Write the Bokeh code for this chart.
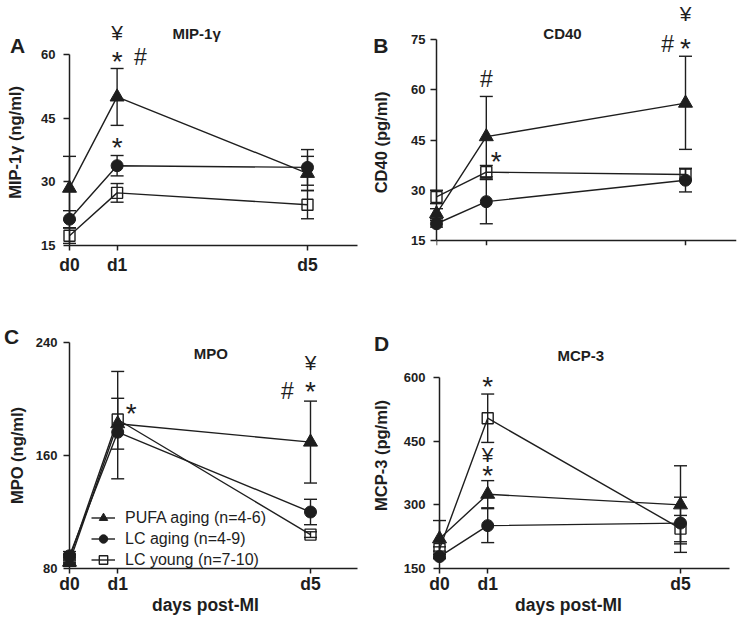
from bokeh.plotting import figure
from bokeh.models import Range1d, FixedTicker, Legend, LegendItem
from bokeh.layouts import column, row
from bokeh.core.properties import value
from bokeh.embed import file_html
from bokeh.resources import INLINE

FONT = "Liberation Sans"
INK = "#1e1e1e"

days = [0, 1, 5]
day_labels = {0: "d0", 1: "d1", 5: "d5"}
group_names = ["PUFA aging (n=4-6)", "LC aging (n=4-9)", "LC young (n=7-10)"]
x_title = "days post-MI"

# ---- Panel A: MIP-1γ (ng/ml)
a_pufa = [28.5, 50.0, 32.0]
a_pufa_up = [7.5, 6.7, 4.0]
a_pufa_dn = [7.5, 6.7, 4.0]
a_lca = [21.2, 33.8, 33.4]
a_lca_up = [2.0, 2.4, 4.2]
a_lca_dn = [2.0, 2.4, 4.2]
a_lcy = [17.3, 27.4, 24.6]
a_lcy_up = [1.8, 2.2, 3.3]
a_lcy_dn = [1.8, 2.2, 3.3]
a_yticks = [15, 30, 45, 60]
a_marks = [("¥", 1, 65.2), ("*", 1, 59.8), ("#", 1.49, 59.3), ("*", 1, 39.7)]

# ---- Panel B: CD40 (pg/ml)
b_pufa = [23.0, 46.0, 56.0]
b_pufa_up = [1.5, 12.0, 14.0]
b_pufa_dn = [1.5, 12.0, 13.8]
b_lca = [20.0, 26.6, 33.0]
b_lca_up = [1.0, 6.6, 3.5]
b_lca_dn = [1.0, 6.6, 3.5]
b_lcy = [28.0, 35.4, 34.7]
b_lcy_up = [2.0, 2.0, 1.8]
b_lcy_dn = [2.0, 2.0, 1.8]
b_yticks = [15, 30, 45, 60, 75]
b_marks = [("#", 1, 63.1), ("*", 1.2, 40.4), ("#", 4.64, 73.8), ("*", 5, 74.1), ("¥", 5, 82.8)]

# ---- Panel C: MPO (ng/ml)
c_pufa = [84.5, 182.5, 169.5]
c_pufa_up = [3, 18, 29]
c_pufa_dn = [3, 18, 29]
c_lca = [89.0, 176.5, 120.0]
c_lca_up = [3, 0, 9]
c_lca_dn = [3, 33, 9]
c_lcy = [87.0, 185.5, 104.0]
c_lcy_up = [3, 34, 2]
c_lcy_dn = [3, 0, 2]
c_yticks = [80, 160, 240]
c_marks = [("*", 1.28, 194), ("#", 4.52, 206), ("*", 5, 209.6), ("¥", 5, 225.8)]

# ---- Panel D: MCP-3 (pg/ml)
d_pufa = [220, 325, 300]
d_pufa_up = [43, 32, 92]
d_pufa_dn = [43, 32, 92]
d_lca = [178, 251, 257]
d_lca_up = [5, 40, 61]
d_lca_dn = [5, 40, 69]
d_lcy = [196, 504, 244]
d_lcy_up = [5, 57, 31]
d_lcy_dn = [5, 57, 31]
d_yticks = [150, 300, 450, 600]
d_marks = [("*", 1, 593), ("¥", 1, 418.6), ("*", 1, 385)]

SYM_SIZE = {"*": 28, "#": 23, "¥": 21}
SYM_DROP = {"*": 0.23, "#": 0.0, "¥": 0.0}

MARKERS = [("triangle", INK, 14), ("circle", INK, 12), ("square", None, 11)]

# common grid (columns share left/right borders, rows share top/bottom borders)
COLS = [dict(width=368, left=69, right=11), dict(width=369, left=68, right=1)]
ROWS = [dict(height=298, top=39, bottom=53), dict(height=322, top=44, bottom=52)]


def style_axis(ax):
    ax.axis_line_color = INK
    ax.axis_line_width = 1.5
    ax.major_tick_line_color = INK
    ax.major_tick_line_width = 1.5
    ax.major_tick_in = 0
    ax.minor_tick_line_color = None
    ax.major_label_text_font = FONT
    ax.major_label_text_font_style = "bold"
    ax.major_label_text_color = INK
    ax.axis_label_text_font = FONT
    ax.axis_label_text_font_style = "bold"
    ax.axis_label_text_color = INK


def make_panel(col, rw, ppd, yr, ybounds, yticks, ylabel, series, marks, title, title_xy,
               letter, letter_xy, ylab_standoff, ytick_standoff, xtick_standoff,
               xaxis_at=None, xaxis_end=None, xlabel_xy=None, legend=False):
    c, r = COLS[col], ROWS[rw]
    fw = c["width"] - c["left"] - c["right"]
    fh = r["height"] - r["top"] - r["bottom"]
    x_end = fw / ppd
    p = figure(width=c["width"], height=r["height"], frame_width=fw, frame_height=fh,
               output_backend="svg", toolbar_location=None,
               x_range=Range1d(0, x_end), y_range=Range1d(*yr),
               min_border_left=c["left"], min_border_right=c["right"],
               min_border_top=r["top"], min_border_bottom=r["bottom"],
               background_fill_color="white", border_fill_color="white")
    p.outline_line_color = None
    p.grid.grid_line_color = None

    xax = p.below[0]
    yax = p.left[0]
    style_axis(xax)
    style_axis(yax)
    xax.ticker = FixedTicker(ticks=days)
    xax.major_label_overrides = day_labels
    xax.bounds = (0, xaxis_end if xaxis_end is not None else x_end)
    if xaxis_at is not None:
        xax.fixed_location = xaxis_at
    xax.major_tick_out = 5
    xax.major_label_text_font_size = "17.5px"
    xax.major_label_standoff = xtick_standoff

    yax.ticker = FixedTicker(ticks=yticks)
    yax.bounds = ybounds
    yax.major_tick_out = 6
    yax.major_label_text_font_size = "13px"
    yax.major_label_standoff = ytick_standoff
    yax.axis_label = ylabel
    yax.axis_label_text_font_size = "16.5px"
    yax.axis_label_standoff = ylab_standoff

    items = []
    for (vals, up, dn), (mk, fill, size), name in zip(series, MARKERS, group_names):
        lr = p.line(days, vals, line_color=INK, line_width=1.4, level="overlay")
        ex, elo, ehi, cx, cy = [], [], [], [], []
        for d, v, u, w in zip(days, vals, up, dn):
            if u or w:
                ex.append(d)
                elo.append(v - w)
                ehi.append(v + u)
            if u:
                cx.append(d)
                cy.append(v + u)
            if w:
                cx.append(d)
                cy.append(v - w)
        p.segment(x0=ex, y0=elo, x1=ex, y1=ehi, line_color=INK, line_width=1.4, level="overlay")
        p.scatter(cx, cy, marker="dash", size=13, line_color=INK, line_width=1.4, level="overlay")
        items.append((name, lr))
    mrs = []
    for (vals, up, dn), (mk, fill, size) in zip(series, MARKERS):
        if fill is None:
            mr = p.scatter(days, vals, marker=mk, size=size, line_color=INK, line_width=1.4,
                           fill_color="white", fill_alpha=0.0, level="overlay")
        else:
            mr = p.scatter(days, vals, marker=mk, size=size, line_color=INK, fill_color=fill,
                           level="overlay")
        mrs.append(mr)

    for sym, x, y in marks:
        fs = SYM_SIZE[sym]
        p.text(x=[x], y=[y], text=[sym], text_font=value(FONT), text_font_size=value(f"{fs}px"),
               text_color=INK, text_align="center", text_baseline="middle",
               y_offset=SYM_DROP[sym] * fs, level="overlay")
    p.text(x=[title_xy[0]], y=[title_xy[1]], text=[title], text_font=value(FONT),
           text_font_style="bold", text_font_size=value("15px"), text_color=INK,
           text_align="center", text_baseline="middle", level="overlay")
    p.text(x=[letter_xy[0]], y=[letter_xy[1]], text=[letter], text_font=value(FONT),
           text_font_style="bold", text_font_size=value("21px"), text_color=INK,
           text_align="center", text_baseline="middle", level="overlay")
    if xlabel_xy is not None:
        p.text(x=[xlabel_xy[0]], y=[xlabel_xy[1]], text=[x_title], text_font=value(FONT),
               text_font_style="bold", text_font_size=value("17.5px"), text_color=INK,
               text_align="center", text_baseline="middle", level="overlay")

    if legend:
        leg_items = [LegendItem(label=n, renderers=[lr, mr]) for (n, lr), mr in zip(items, mrs)]
        lg = Legend(items=leg_items, location=(22, -2), orientation="vertical",
                    glyph_width=24, glyph_height=21, spacing=0, padding=0, margin=0,
                    label_standoff=10, label_text_font=FONT, label_text_font_size="16px",
                    label_text_color=INK, background_fill_alpha=0.0, border_line_color=None,
                    label_height=21)
        p.add_layout(lg, "center")
    return p


pA = make_panel(0, 0, 47.6, (15, 63.53), (15, 60), a_yticks, "MIP-1γ (ng/ml)",
                [(a_pufa, a_pufa_up, a_pufa_dn), (a_lca, a_lca_up, a_lca_dn), (a_lcy, a_lcy_up, a_lcy_dn)],
                a_marks, "MIP-1γ", (2.67, 64.9), "A", (-1.09, 62.0),
                ylab_standoff=14, ytick_standoff=8, xtick_standoff=4)
pB = make_panel(1, 0, 49.8, (13.51, 75), (15, 75), b_yticks, "CD40 (pg/ml)",
                [(b_pufa, b_pufa_up, b_pufa_dn), (b_lca, b_lca_up, b_lca_dn), (b_lcy, b_lcy_up, b_lcy_dn)],
                b_marks, "CD40", (2.53, 76.8), "B", (-1.12, 73.2),
                ylab_standoff=18, ytick_standoff=5, xtick_standoff=4, xaxis_at=15)
pC = make_panel(0, 1, 48.2, (80, 240), (80, 240), c_yticks, "MPO (ng/ml)",
                [(c_pufa, c_pufa_up, c_pufa_dn), (c_lca, c_lca_up, c_lca_dn), (c_lcy, c_lcy_up, c_lcy_dn)],
                c_marks, "MPO", (2.93, 232.2), "C", (-1.2, 244.2),
                ylab_standoff=7, ytick_standoff=6, xtick_standoff=0,
                xlabel_xy=(2.82, 54.2), legend=True)
pD = make_panel(1, 1, 48.2, (150, 682.4), (150, 600), d_yticks, "MCP-3 (pg/ml)",
                [(d_pufa, d_pufa_up, d_pufa_dn), (d_lca, d_lca_up, d_lca_dn), (d_lcy, d_lcy_up, d_lcy_dn)],
                d_marks, "MCP-3", (2.93, 651.8), "D", (-1.2, 680.0),
                ylab_standoff=11, ytick_standoff=8, xtick_standoff=0, xaxis_end=6.02,
                xlabel_xy=(2.676, 64.0))

layout = column(row(pA, pB), row(pC, pD))
open("out.html", "w").write(file_html(layout, INLINE))
